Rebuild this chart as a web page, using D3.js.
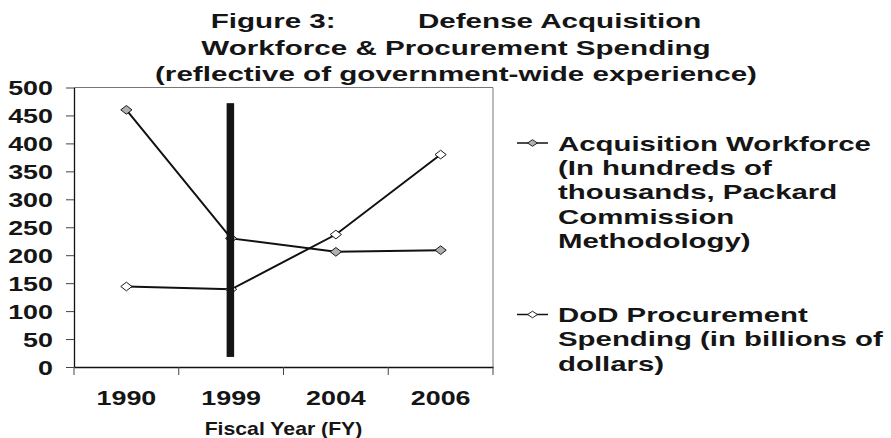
<!DOCTYPE html>
<html>
<head>
<meta charset="utf-8">
<script src="https://cdn.jsdelivr.net/npm/d3@7"></script>
<style>
	body { margin: 0; background: #fff; }
	svg text { font-family: "Liberation Sans", Arial, Helvetica, sans-serif; font-weight: bold; fill: #151515; }
</style>
</head>
<body>
<svg id="chart"></svg>
<script>
const titleLines = ["Figure 3:          Defense Acquisition", "Workforce & Procurement Spending", "(reflective of government-wide experience)"];
const years = ["1990", "1999", "2004", "2006"];
const workforce = [460, 230, 206, 209];
const procurement = [144, 139, 237, 380];
const yTicks = [0, 50, 100, 150, 200, 250, 300, 350, 400, 450, 500];
const legendWorkforce = ["Acquisition Workforce", "(In hundreds of", "thousands, Packard", "Commission", "Methodology)"];
const legendProcurement = ["DoD Procurement", "Spending (in billions of", "dollars)"];
const markerYear = "1999";
const markerSpan = [18, 472];
const xTitle = "Fiscal Year (FY)";

function makeChart() {
	let w = 891;
	let h = 438;
	let marginT = 87.5;
	let marginL = 74;
	let marginR = 398;
	let marginB = 71;

	let chart = d3.select('#chart')
		.attr('width', w)
		.attr('height', h);

	let xScale = d3.scaleBand()
		.domain(years)
		.range([marginL, w - marginR]);

	let yScale = d3.scaleLinear()
		.domain([0, 500])
		.range([h - marginB, marginT]);

	let series = [
		{ values: workforce, fill: '#b0b0b0', legend: legendWorkforce, ly: 150.5 },
		{ values: procurement, fill: '#ffffff', legend: legendProcurement, ly: 322 }
	];

	// title, stretched wide like the original
	chart.selectAll('.title')
		.data(titleLines)
		.enter()
		.append('text')
		.attr('class', 'title')
		.attr('transform', (d, i) => `translate(456, ${[28, 54.5, 81][i]}) scale(1.41, 1)`)
		.style('font-size', '21px')
		.style('text-anchor', 'middle')
		.style('white-space', 'pre')
		.text(d => d);

	// plot frame (top and right)
	chart.append('path')
		.attr('d', `M${marginL},${marginT}H${w - marginR}V${h - marginB}`)
		.style('fill', 'none')
		.style('stroke', '#777')
		.attr('stroke-width', 1);

	let line = d3.line()
		.x((d, i) => xScale(years[i]) + xScale.bandwidth() / 2)
		.y(d => yScale(d));

	chart.selectAll('.line')
		.data(series)
		.enter()
		.append('path')
		.attr('class', 'line')
		.style('fill', 'none')
		.style('stroke', '#111')
		.attr('stroke-width', 2)
		.attr('d', d => line(d.values));

	let diamond = d3.symbol(d3.symbolSquare, 52);

	series.forEach(s => {
		chart.selectAll(null)
			.data(s.values)
			.enter()
			.append('path')
			.attr('d', diamond)
			.attr('transform', (d, i) => `translate(${xScale(years[i]) + xScale.bandwidth() / 2}, ${yScale(d)}) scale(1.1, 0.85) rotate(45)`)
			.style('fill', s.fill)
			.style('stroke', '#111')
			.attr('stroke-width', 0.9);
	});

	// thick vertical marker at 1999
	chart.append('rect')
		.attr('x', xScale(markerYear) + xScale.bandwidth() / 2 - 4.5)
		.attr('y', yScale(markerSpan[1]))
		.attr('width', 7.5)
		.attr('height', yScale(markerSpan[0]) - yScale(markerSpan[1]))
		.style('fill', '#151515');

	// AXES
	let yAxis = d3.axisLeft(yScale)
		.tickValues(yTicks)
		.tickSize(8)
		.tickSizeOuter(0);

	let gy = chart.append('g')
		.attr('transform', `translate(${marginL}, 0)`)
		.call(yAxis);
	gy.select('.domain').attr('stroke', '#111').attr('stroke-width', 1.3);
	gy.selectAll('.tick line').attr('stroke', '#444');
	gy.selectAll('.tick text')
		.attr('x', -21 / 1.28)
		.attr('dy', '0.35em')
		.attr('transform', 'scale(1.28, 1)')
		.style('font-size', '21px')
		.attr('fill', null);

	let xAxis = d3.axisBottom(xScale)
		.tickSize(0)
		.tickSizeOuter(0);

	let gx = chart.append('g')
		.attr('transform', `translate(0, ${h - marginB})`)
		.call(xAxis);
	gx.select('.domain').attr('stroke', '#111').attr('stroke-width', 1.3);
	gx.selectAll('.tick text')
		.attr('y', 38)
		.attr('dy', null)
		.attr('transform', 'scale(1.28, 1)')
		.style('font-size', '21px')
		.attr('fill', null);

	// tick marks sit on the category boundaries
	gx.selectAll('.edge')
		.data(years.map(d => xScale(d)).concat([xScale.range()[1]]))
		.enter()
		.append('line')
		.attr('class', 'edge')
		.attr('x1', d => d)
		.attr('x2', d => d)
		.attr('y1', 0)
		.attr('y2', 8)
		.attr('stroke', '#444');

	// x-axis title
	chart.append('text')
		.attr('transform', `translate(${(marginL + w - marginR) / 2}, 435) scale(1.18, 1)`)
		.style('font-size', '18px')
		.style('text-anchor', 'middle')
		.text(xTitle);

	// LEGEND
	series.forEach(s => {
		chart.append('line')
			.attr('x1', 517)
			.attr('x2', 548)
			.attr('y1', s.ly - 7.5)
			.attr('y2', s.ly - 7.5)
			.style('stroke', '#111')
			.attr('stroke-width', 1.5);

		chart.append('path')
			.attr('d', d3.symbol(d3.symbolSquare, 34)())
			.attr('transform', `translate(532.5, ${s.ly - 7.5}) scale(1.2, 0.8) rotate(45)`)
			.style('fill', s.fill)
			.style('stroke', '#111')
			.attr('stroke-width', 0.8);

		chart.selectAll(null)
			.data(s.legend)
			.enter()
			.append('text')
			.attr('transform', (d, i) => `translate(558, ${s.ly + i * 24.4}) scale(1.4, 1)`)
			.style('font-size', '21px')
			.text(d => d);
	});
}

window.onload = function () {
	makeChart();
}
</script>
</body>
</html>
